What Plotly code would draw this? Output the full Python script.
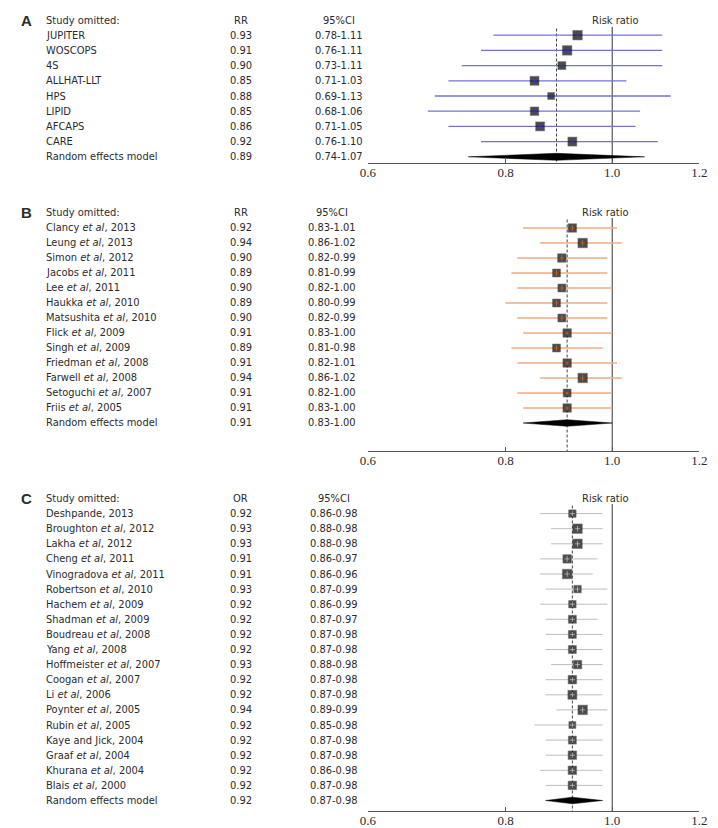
import math
import plotly.graph_objects as go

# ---------------- data ----------------
# Panel A
studies_a = ["JUPITER", "WOSCOPS", "4S", "ALLHAT-LLT", "HPS", "LIPID", "AFCAPS", "CARE"]
rr_a = [0.93, 0.91, 0.90, 0.85, 0.88, 0.85, 0.86, 0.92]
lo_a = [0.78, 0.76, 0.73, 0.71, 0.69, 0.68, 0.71, 0.76]
hi_a = [1.11, 1.11, 1.11, 1.03, 1.13, 1.06, 1.05, 1.10]
weight_a = [8, 8, 6.5, 7.5, 5.5, 7, 7.5, 7.5]
pooled_a = [0.89, 0.74, 1.07]

# Panel B
studies_b = ["Clancy <i>et al</i>, 2013", "Leung <i>et al</i>, 2013", "Simon <i>et al</i>, 2012",
             "Jacobs <i>et al</i>, 2011", "Lee <i>et al</i>, 2011", "Haukka <i>et al</i>, 2010",
             "Matsushita <i>et al</i>, 2010", "Flick <i>et al</i>, 2009", "Singh <i>et al</i>, 2009",
             "Friedman <i>et al</i>, 2008", "Farwell <i>et al</i>, 2008", "Setoguchi <i>et al</i>, 2007",
             "Friis <i>et al</i>, 2005"]
rr_b = [0.92, 0.94, 0.90, 0.89, 0.90, 0.89, 0.90, 0.91, 0.89, 0.91, 0.94, 0.91, 0.91]
lo_b = [0.83, 0.86, 0.82, 0.81, 0.82, 0.80, 0.82, 0.83, 0.81, 0.82, 0.86, 0.82, 0.83]
hi_b = [1.01, 1.02, 0.99, 0.99, 1.00, 0.99, 0.99, 1.00, 0.98, 1.01, 1.02, 1.00, 1.00]
weight_b = [7, 8, 7, 6.5, 6.5, 6.5, 6.5, 7, 6.5, 7, 8, 6.5, 7]
pooled_b = [0.91, 0.83, 1.00]

# Panel C
studies_c = ["Deshpande, 2013", "Broughton <i>et al</i>, 2012", "Lakha <i>et al</i>, 2012",
             "Cheng <i>et al</i>, 2011", "Vinogradova <i>et al</i>, 2011", "Robertson <i>et al</i>, 2010",
             "Hachem <i>et al</i>, 2009", "Shadman <i>et al</i>, 2009", "Boudreau <i>et al</i>, 2008",
             "Yang <i>et al</i>, 2008", "Hoffmeister <i>et al</i>, 2007", "Coogan <i>et al</i>, 2007",
             "Li <i>et al</i>, 2006", "Poynter <i>et al</i>, 2005", "Rubin <i>et al</i>, 2005",
             "Kaye and Jick, 2004", "Graaf <i>et al</i>, 2004", "Khurana <i>et al</i>, 2004",
             "Blais <i>et al</i>, 2000"]
rr_c = [0.92, 0.93, 0.93, 0.91, 0.91, 0.93, 0.92, 0.92, 0.92, 0.92, 0.93, 0.92, 0.92, 0.94,
        0.92, 0.92, 0.92, 0.92, 0.92]
lo_c = [0.86, 0.88, 0.88, 0.86, 0.86, 0.87, 0.86, 0.87, 0.87, 0.87, 0.88, 0.87, 0.87, 0.89,
        0.85, 0.87, 0.87, 0.86, 0.87]
hi_c = [0.98, 0.98, 0.98, 0.97, 0.96, 0.99, 0.99, 0.97, 0.98, 0.98, 0.98, 0.98, 0.98, 0.99,
        0.98, 0.98, 0.98, 0.98, 0.98]
weight_c = [6, 8, 8, 7, 8, 6, 6, 6.5, 6.5, 6.5, 7, 7, 7.5, 8, 5.5, 6.5, 7, 7, 7]
pooled_c = [0.92, 0.87, 0.98]

tick_vals = [0.6, 0.8, 1.0, 1.2]
tick_text = ["0.6", "0.8", "1.0", "1.2"]

# ---------------- layout constants ----------------
W, H = 718, 828
X0, X1 = 360, 699
FONT = "DejaVu Sans Condensed, Liberation Sans, Arial, sans-serif"
TXT = "#2b2b2b"

panels = [
    dict(letter="A", measure="RR", names=studies_a, rr=rr_a, lo=lo_a, hi=hi_a, w=weight_a,
         pooled=pooled_a, head=12, step=15.2, axis=155, top=1, ci_x=330, rr_lab_x=613,
         line_top=19, ci_col="#7272d6", cross_col="#3a3ad0", ci_w=1.3, dia_h=0.23),
    dict(letter="B", measure="RR", names=studies_b, rr=rr_b, lo=lo_b, hi=hi_b, w=weight_b,
         pooled=pooled_b, head=205, step=15.0, axis=443, top=195, ci_x=323, rr_lab_x=602,
         line_top=210, ci_col="#efac82", cross_col="#e07030", ci_w=1.3, dia_h=0.22),
    dict(letter="C", measure="OR", names=studies_c, rr=rr_c, lo=lo_c, hi=hi_c, w=weight_c,
         pooled=pooled_c, head=490.5, step=15.1, axis=803, top=481, ci_x=325, rr_lab_x=602,
         line_top=496, ci_col="#bdbdbd", cross_col="#cfcfcf", ci_w=1.0, dia_h=0.22),
]

fig = go.Figure()
annotations = []
layout_axes = {}

for k, p in enumerate(panels):
    sfx = "" if k == 0 else str(k + 1)
    xa, ya = "x" + sfx, "y" + sfx
    n = len(p["names"])
    to_row = lambda px, p=p: (px - p["head"]) / p["step"]
    bottom_row, top_row = to_row(p["axis"]), to_row(p["top"])
    rows = list(range(1, n + 1))
    pool_row = n + 1

    layout_axes["xaxis" + sfx] = dict(
        domain=[X0 / W, X1 / W], type="log", range=[math.log10(0.6), math.log10(1.2)],
        anchor=ya, showgrid=False, zeroline=False, showline=True, linecolor="#555555",
        linewidth=1, ticks="inside", ticklen=4, tickcolor="#555555",
        tickvals=tick_vals, ticktext=tick_text, ticklabelstandoff=-3,
        tickfont=dict(family="Liberation Serif, Times New Roman, serif", size=13, color=TXT),
        fixedrange=True)
    layout_axes["yaxis" + sfx] = dict(
        domain=[1 - p["axis"] / H, 1 - p["top"] / H], range=[bottom_row, top_row],
        anchor=xa, visible=False, fixedrange=True)

    lt = to_row(p["line_top"])
    # null line
    fig.add_trace(go.Scatter(x=[1.0, 1.0], y=[lt, bottom_row], mode="lines",
                             line=dict(color="#555555", width=1.2), xaxis=xa, yaxis=ya,
                             hoverinfo="skip", showlegend=False))
    # pooled dashed line
    fig.add_trace(go.Scatter(x=[p["pooled"][0]] * 2, y=[lt + 0.1, bottom_row], mode="lines",
                             line=dict(color="#444444", width=1, dash="3px,2px"),
                             xaxis=xa, yaxis=ya, hoverinfo="skip", showlegend=False))
    # CI lines
    cx, cy = [], []
    for r, lo, hi in zip(rows, p["lo"], p["hi"]):
        cx += [lo, hi, None]
        cy += [r, r, None]
    fig.add_trace(go.Scatter(x=cx, y=cy, mode="lines",
                             line=dict(color=p["ci_col"], width=p["ci_w"]),
                             xaxis=xa, yaxis=ya, hoverinfo="skip", showlegend=False))
    # squares
    fig.add_trace(go.Scatter(x=p["rr"], y=rows, mode="markers",
                             marker=dict(symbol="square", size=[w + 1.5 for w in p["w"]],
                                         color="#000000",
                                         line=dict(color="#333333", width=0.5)),
                             xaxis=xa, yaxis=ya, hoverinfo="skip", showlegend=False))
    fig.add_trace(go.Scatter(x=p["rr"], y=rows, mode="markers",
                             marker=dict(symbol="cross-thin", size=4,
                                         line=dict(color=p["cross_col"], width=0.7)),
                             xaxis=xa, yaxis=ya, hoverinfo="skip", showlegend=False))
    # diamond
    est, plo, phi = p["pooled"]
    dh = p["dia_h"]
    fig.add_trace(go.Scatter(x=[plo, est, phi, est, plo], y=[pool_row, pool_row - dh, pool_row,
                                                               pool_row + dh, pool_row],
                             mode="lines", fill="toself", fillcolor="#000000",
                             line=dict(color="#000000", width=0.5),
                             xaxis=xa, yaxis=ya, hoverinfo="skip", showlegend=False))

    # text
    def add_text(text, px, row, anchor="left", size=11, bold=False, fam=FONT):
        annotations.append(dict(text=("<b>%s</b>" % text) if bold else text,
                                x=px / W, y=row, xref="paper", yref=ya,
                                xanchor=anchor, yanchor="middle", showarrow=False,
                                font=dict(family=fam, size=size, color=TXT)))

    add_text(p["letter"], 11, 0, anchor="center", size=15, bold=True,
             fam="Liberation Sans, Arial, sans-serif")
    add_text("Study omitted:", 29, 0)
    add_text(p["measure"], 230, 0, anchor="center")
    add_text("95%CI", p["ci_x"], 0, anchor="center")
    add_text("Risk ratio", p["rr_lab_x"], 0, anchor="center")
    for r, name, v, lo, hi in zip(rows, p["names"], p["rr"], p["lo"], p["hi"]):
        add_text(name, 29, r)
        add_text("%.2f" % v, 230, r, anchor="center")
        add_text("%.2f-%.2f" % (lo, hi), p["ci_x"], r, anchor="center")
    add_text("Random effects model", 29, pool_row)
    add_text("%.2f" % est, 230, pool_row, anchor="center")
    add_text("%.2f-%.2f" % (plo, phi), p["ci_x"], pool_row, anchor="center")

fig.update_layout(width=W, height=H, margin=dict(l=0, r=0, t=0, b=0),
                  paper_bgcolor="white", plot_bgcolor="white",
                  annotations=annotations, showlegend=False, **layout_axes)

fig.write_html("out.html")
